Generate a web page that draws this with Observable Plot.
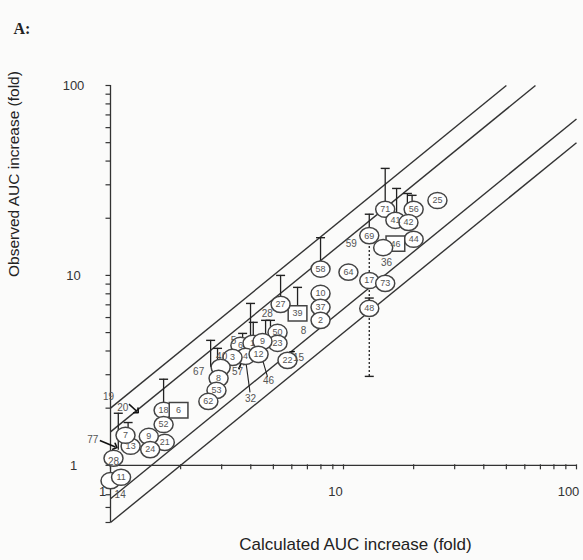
<!DOCTYPE html>
<html>
<head>
<meta charset="utf-8">
<script src="https://cdn.jsdelivr.net/npm/d3@7"></script>
<script src="https://cdn.jsdelivr.net/npm/@observablehq/plot@0.6"></script>
<style>
  html, body { margin: 0; padding: 0; background: #fbfbfa; }
</style>
</head>
<body>
<div id="chart"></div>
<script>
// ---- axes ----
const xDomain = [1, 100];
const yDomain = [0.5, 100];
const xTickValues = [1,2,3,4,5,6,7,8,9,10,20,30,40,50,60,70,80,90,100];
const yTickValues = [0.5,0.6,0.7,0.8,0.9,1,2,3,4,5,6,7,8,9,10,20,30,40,50,60,70,80,90,100];
const xTickLabels = [1, 10, 100];
const yTickLabels = [1, 10, 100];
const xTitle = "Calculated AUC increase (fold)";
const yTitle = "Observed AUC increase (fold)";
const panelLabel = "A:";

// ---- guide lines y = k * x ----
const guideFactors = [2, 1.5, 2 / 3, 0.5];

// ---- points ----
const pointIds   = ["25","71","56","41","42","44","46","","69","64","17","73","48","58","10","37","2","39","27","50","23","22","6","1","9","4","12","3","","8","53","62","18","6","52","21","9","24","13","7","","","11"];
const pointCalc  = [25.3,15.1,20.0,16.7,19.0,20.0,16.7,14.8,12.9,10.5,12.9,15.1,12.9,7.97,7.97,7.97,7.97,6.35,5.37,5.21,5.21,5.75,3.61,4.07,4.49,3.8,4.32,3.34,2.97,2.91,2.85,2.63,1.69,1.96,1.69,1.71,1.46,1.48,1.22,1.16,1.03,1.0,1.11];
const pointObs   = [24.8,22.3,22.3,19.5,19.0,15.5,14.7,14.0,16.2,10.4,9.4,9.08,6.7,10.8,8.04,6.79,5.8,6.31,7.04,5.01,4.39,3.57,4.28,4.39,4.49,3.75,3.84,3.7,3.28,2.87,2.48,2.17,1.95,1.95,1.64,1.32,1.42,1.21,1.26,1.44,1.09,0.83,0.865];
const pointShape = ["c","c","c","c","c","c","s","c","c","c","c","c","c","c","c","c","c","s","c","c","c","c","c","c","c","c","c","c","c","c","c","c","c","s","c","c","c","c","c","c","c","c","c"];

// ---- error bars ----
const errCalc   = [15.1,16.9,18.8,19.7,12.9,12.9,12.9,10.5,7.97,6.35,5.37,3.99,4.1,4.63,4.86,3.69,2.69,2.88,1.69,1.08,1.19];
const errLow    = [22.3,19.5,19.0,22.3,16.2,2.94,6.7,10.4,10.8,6.31,7.04,4.4,4.4,4.8,4.8,4.28,3.28,3.28,1.95,1.2,1.3];
const errHigh   = [36.6,28.7,27.0,26.4,21.0,16.2,7.6,11.1,15.8,8.65,10.0,7.12,5.66,5.8,5.8,4.95,4.55,4.13,2.84,1.88,1.68];
const errDashed = [false,false,false,false,false,true,false,false,false,false,false,false,false,false,false,false,false,false,false,false,false];

// ---- outside labels ----
const noteText = ["19","20","77","28","14","67","5","40","57","32","46","15","28","8","59","36"];
const noteCalc = [0.98,1.13,0.84,1.03,1.10,2.39,3.37,3.0,3.51,3.99,4.77,6.41,4.71,6.74,10.8,15.3];
const noteObs  = [2.3,2.02,1.37,1.05,0.70,3.09,4.55,3.75,3.09,2.25,2.8,3.7,6.31,5.13,14.6,11.7];

// ---- leader lines ----
const leadX1 = [3.8, 4.45, 1.2, 0.9, 3.55, 3.4, 6.2];
const leadY1 = [3.6, 3.75, 2.1, 1.35, 3.2, 4.4, 3.75];
const leadX2 = [3.97, 4.72, 1.3, 1.05, 3.65, 3.55, 5.95];
const leadY2 = [2.42, 2.92, 1.92, 1.25, 3.5, 4.1, 3.9];
const leadArrow = [false, false, true, true, true, true, true];

// ---- custom symbols ----
const sz = s => Math.sqrt(s / Math.PI);
const ellipseSym = { draw(ctx, s) { const r = sz(s), rx = r * 1.12, ry = r * 0.95, k = 0.5523;
  ctx.moveTo(rx, 0);
  ctx.bezierCurveTo(rx, ry * k, rx * k, ry, 0, ry);
  ctx.bezierCurveTo(-rx * k, ry, -rx, ry * k, -rx, 0);
  ctx.bezierCurveTo(-rx, -ry * k, -rx * k, -ry, 0, -ry);
  ctx.bezierCurveTo(rx * k, -ry, rx, -ry * k, rx, 0);
  ctx.closePath(); } };
const rectSym = { draw(ctx, s) { const r = sz(s); ctx.rect(-r * 1.1, -r * 0.9, r * 2.2, r * 1.8); } };
const capSym = { draw(ctx, s) { const r = sz(s); ctx.moveTo(-r, 0); ctx.lineTo(r, 0); } };
const leftTickSym = { draw(ctx, s) { const r = sz(s); ctx.moveTo(0, 0); ctx.lineTo(-r, 0); } };
const downTickSym = { draw(ctx, s) { const r = sz(s); ctx.moveTo(0, -1); ctx.lineTo(0, r); } };

const pIdx = d3.range(pointIds.length);
const eIdx = d3.range(errCalc.length);
const nIdx = d3.range(noteText.length);
const lIdx = d3.range(leadX1.length);
const ink = "#3c3c3c";

const chart = Plot.plot({
  width: 583,
  height: 560,
  marginLeft: 110,
  marginRight: 7,
  marginTop: 85,
  marginBottom: 38,
  style: { background: "#fbfbfa", fontFamily: "Liberation Sans, Arial, sans-serif", color: ink },
  x: { type: "log", domain: xDomain, axis: null },
  y: { type: "log", domain: yDomain, axis: null },
  marks: [
    // guide lines
    Plot.link(guideFactors, {
      x1: () => xDomain[0], y1: k => k * xDomain[0],
      x2: k => Math.min(xDomain[1], yDomain[1] / k), y2: k => Math.min(yDomain[1], k * xDomain[1]),
      stroke: "#333", strokeWidth: 1.4
    }),
    // axis lines
    Plot.ruleX([xDomain[0]], { y1: () => yDomain[0], y2: () => yDomain[1], stroke: "#333", strokeWidth: 1.3 }),
    Plot.ruleY([1], { x1: () => xDomain[0], x2: () => xDomain[1], stroke: "#333", strokeWidth: 1.3 }),
    // ticks
    Plot.dot(yTickValues, { x: () => xDomain[0], y: d => d, symbol: leftTickSym, r: 5, stroke: "#333", fill: "none", strokeWidth: 1.2 }),
    Plot.dot(xTickValues, { x: d => d, y: () => 1, symbol: downTickSym, r: 4, stroke: "#333", fill: "none", strokeWidth: 1.2 }),
    // error bars
    Plot.ruleX(eIdx.filter(i => !errDashed[i]), { x: i => errCalc[i], y1: i => errLow[i], y2: i => errHigh[i], stroke: "#222", strokeWidth: 1.3 }),
    Plot.ruleX(eIdx.filter(i => errDashed[i]), { x: i => errCalc[i], y1: i => errLow[i], y2: i => errHigh[i], stroke: "#222", strokeWidth: 1.3, strokeDasharray: "2,2" }),
    Plot.dot(eIdx, { x: i => errCalc[i], y: i => errHigh[i], symbol: capSym, r: 4.5, stroke: "#222", fill: "none", strokeWidth: 1.4 }),
    Plot.dot(eIdx.filter(i => errDashed[i]), { x: i => errCalc[i], y: i => errLow[i], symbol: capSym, r: 4.5, stroke: "#222", fill: "none", strokeWidth: 1.4 }),
    // leaders
    Plot.link(lIdx.filter(i => !leadArrow[i]), { x1: i => leadX1[i], y1: i => leadY1[i], x2: i => leadX2[i], y2: i => leadY2[i], stroke: "#222", strokeWidth: 1.1 }),
    Plot.link(lIdx.filter(i => leadArrow[i]), { x1: i => leadX1[i], y1: i => leadY1[i], x2: i => leadX2[i], y2: i => leadY2[i], stroke: "#111", strokeWidth: 1.6, markerEnd: "arrow" }),
    // points
    Plot.dot(pIdx, { x: i => pointCalc[i], y: i => pointObs[i], symbol: i => pointShape[i] === "s" ? rectSym : ellipseSym, r: 8.5, fill: "white", stroke: "#444", strokeWidth: 1.5 }),
    Plot.text(pIdx, { x: i => pointCalc[i], y: i => pointObs[i], text: i => pointIds[i], fontSize: 9, fill: "#555" }),
    // outside labels
    Plot.text(nIdx, { x: i => noteCalc[i], y: i => noteObs[i], text: i => noteText[i], fontSize: 10, fill: "#555" }),
    // tick labels
    Plot.text(xTickLabels, { x: d => d, y: () => 1, text: d => String(d), dy: 26, dx: -8, fontSize: 13, fill: "#333" }),
    Plot.text(yTickLabels, { frameAnchor: "left", textAnchor: "middle", y: d => d, text: d => String(d), dx: -37, fontSize: 13, fill: "#333" }),
    // titles
    Plot.text([xTitle], { frameAnchor: "bottom", dx: 12, dy: 27, fontSize: 17, fill: "#222" }),
    Plot.text([yTitle], { frameAnchor: "left", rotate: -90, dx: -96, dy: -27, fontSize: 15.5, fill: "#222" }),
    Plot.text([panelLabel], { frameAnchor: "top-left", textAnchor: "start", dx: -97, dy: -63, fontSize: 16, fontWeight: "bold", fontFamily: "Liberation Serif, Times New Roman, serif", fill: "#222" })
  ]
});
document.getElementById("chart").appendChild(chart);
</script>
</body>
</html>
